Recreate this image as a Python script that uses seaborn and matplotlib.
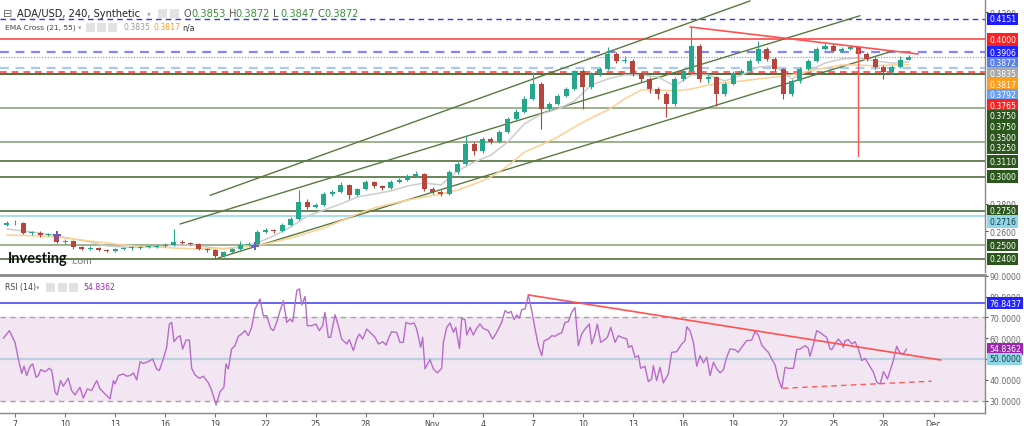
import numpy as np
import pandas as pd
import matplotlib
matplotlib.use("Agg")
import matplotlib.pyplot as plt
from matplotlib.patches import Rectangle
import seaborn as sns

# ---------------- data ----------------
base_date = "2023-10-07"
candle_start = "2023-10-06 12:00"
first_open = 0.2650
closes = [0.2661, 0.2665, 0.2589, 0.2589, 0.2574, 0.2574, 0.2523, 0.2530, 0.2486, 0.2472,
          0.2479, 0.2464, 0.2457, 0.2472, 0.2479, 0.2479, 0.2486, 0.2486, 0.2494, 0.2501,
          0.2523, 0.2516, 0.2508, 0.2472, 0.2464, 0.2421, 0.2450, 0.2472, 0.2501, 0.2508,
          0.2596, 0.2610, 0.2603, 0.2647, 0.2691, 0.2815, 0.2778, 0.2793, 0.2873, 0.2888,
          0.2939, 0.2866, 0.2909, 0.2960, 0.2931, 0.2917, 0.2960, 0.2975, 0.3004, 0.3019,
          0.2909, 0.2888, 0.2873, 0.3033, 0.3092, 0.3238, 0.3187, 0.3274, 0.3252, 0.3325,
          0.3420, 0.3471, 0.3566, 0.3675, 0.3493, 0.3529, 0.3588, 0.3639, 0.3770, 0.3653,
          0.3748, 0.3785, 0.3894, 0.3843, 0.3843, 0.3748, 0.3712, 0.3639, 0.3602, 0.3529,
          0.3712, 0.3770, 0.3952, 0.3712, 0.3726, 0.3602, 0.3675, 0.3756, 0.3770, 0.3843,
          0.3931, 0.3858, 0.3785, 0.3602, 0.3697, 0.3785, 0.3843, 0.3931, 0.3952, 0.3916,
          0.3931, 0.3945, 0.3894, 0.3858, 0.3800, 0.3763, 0.3800, 0.3853, 0.3872]
highs = [0.2675, 0.2680, 0.2672, 0.2602, 0.2600, 0.2588, 0.2585, 0.2542, 0.2538, 0.2495,
         0.2490, 0.2487, 0.2472, 0.2480, 0.2488, 0.2490, 0.2495, 0.2497, 0.2503, 0.2512,
         0.2618, 0.2535, 0.2525, 0.2515, 0.2480, 0.2470, 0.2458, 0.2482, 0.2530, 0.2520,
         0.2612, 0.2625, 0.2620, 0.2660, 0.2705, 0.2902, 0.2840, 0.2810, 0.2890, 0.2900,
         0.2960, 0.2945, 0.2920, 0.2975, 0.2968, 0.2940, 0.2972, 0.2988, 0.3018, 0.3040,
         0.3025, 0.2925, 0.2900, 0.3045, 0.3105, 0.3296, 0.3250, 0.3290, 0.3285, 0.3340,
         0.3435, 0.3490, 0.3585, 0.3760, 0.3690, 0.3545, 0.3600, 0.3655, 0.3780, 0.3785,
         0.3765, 0.3800, 0.3945, 0.3905, 0.3880, 0.3855, 0.3765, 0.3725, 0.3650, 0.3615,
         0.3725, 0.3790, 0.4091, 0.3965, 0.3745, 0.3735, 0.3690, 0.3770, 0.3785, 0.3858,
         0.3990, 0.3945, 0.3870, 0.3795, 0.3710, 0.3800, 0.3858, 0.3945, 0.3975, 0.3965,
         0.3945, 0.3960, 0.3955, 0.3905, 0.3870, 0.3812, 0.3815, 0.3880, 0.3885]
lows = [0.2640, 0.2650, 0.2578, 0.2575, 0.2562, 0.2563, 0.2512, 0.2510, 0.2475, 0.2462,
        0.2465, 0.2455, 0.2448, 0.2450, 0.2465, 0.2468, 0.2470, 0.2476, 0.2478, 0.2485,
        0.2495, 0.2505, 0.2498, 0.2462, 0.2452, 0.2406, 0.2412, 0.2442, 0.2465, 0.2490,
        0.2500, 0.2585, 0.2590, 0.2595, 0.2640, 0.2685, 0.2765, 0.2768, 0.2785, 0.2860,
        0.2880, 0.2840, 0.2855, 0.2900, 0.2920, 0.2905, 0.2910, 0.2950, 0.2965, 0.2995,
        0.2895, 0.2875, 0.2858, 0.2865, 0.3020, 0.3085, 0.3160, 0.3175, 0.3238, 0.3245,
        0.3315, 0.3410, 0.3460, 0.3555, 0.3347, 0.3480, 0.3520, 0.3578, 0.3630, 0.3490,
        0.3640, 0.3735, 0.3775, 0.3830, 0.3825, 0.3735, 0.3690, 0.3610, 0.3566, 0.3435,
        0.3515, 0.3700, 0.3760, 0.3690, 0.3680, 0.3515, 0.3590, 0.3665, 0.3745, 0.3760,
        0.3830, 0.3845, 0.3770, 0.3566, 0.3590, 0.3685, 0.3775, 0.3835, 0.3920, 0.3905,
        0.3905, 0.3920, 0.3880, 0.3845, 0.3785, 0.3710, 0.3750, 0.3790, 0.3847]

ema_start = "2023-10-06 12:00"
ema21 = [0.2618, 0.2603, 0.2588, 0.2567, 0.2545, 0.2523, 0.2494, 0.2486, 0.2486, 0.2486,
         0.2501, 0.2501, 0.2486, 0.2472, 0.2486, 0.2516, 0.2567, 0.2632, 0.2712, 0.2756,
         0.2800, 0.2851, 0.2873, 0.2895, 0.2931, 0.2953, 0.2939, 0.3041, 0.3106, 0.3157,
         0.3252, 0.3384, 0.3456, 0.3493, 0.3551, 0.3668, 0.3712, 0.3741, 0.3741, 0.3726,
         0.3661, 0.3741, 0.3741, 0.3697, 0.3741, 0.3799, 0.3807, 0.3712, 0.3770, 0.3828,
         0.3858, 0.3865, 0.3843, 0.3828, 0.3835]
ema55 = [0.2574, 0.2570, 0.2567, 0.2559, 0.2545, 0.2530, 0.2516, 0.2501, 0.2490, 0.2486,
         0.2479, 0.2475, 0.2472, 0.2475, 0.2486, 0.2494, 0.2523, 0.2552, 0.2588, 0.2625,
         0.2676, 0.2727, 0.2771, 0.2800, 0.2829, 0.2851, 0.2873, 0.2902, 0.2946, 0.2997,
         0.3077, 0.3179, 0.3230, 0.3289, 0.3362, 0.3427, 0.3486, 0.3566, 0.3632, 0.3632,
         0.3624, 0.3639, 0.3668, 0.3683, 0.3697, 0.3712, 0.3726, 0.3741, 0.3770, 0.3792,
         0.3814, 0.3814, 0.3807, 0.3814, 0.3817]

rsi_day = [-0.70, -0.34, 0.00, 0.20, 0.40, 0.54, 0.70, 0.90, 1.06, 1.26, 1.40, 1.54, 1.80, 2.06, 2.20,
           2.40, 2.53, 2.73, 2.89, 3.19, 3.39, 3.59, 3.89, 4.09, 4.33, 4.59, 4.89, 5.09, 5.39, 5.69,
           5.89, 5.99, 6.19, 6.49, 6.69, 6.89, 7.09, 7.29, 7.49, 7.68, 7.98, 8.24, 8.48, 8.64, 8.88,
           9.08, 9.24, 9.38, 9.52, 9.72, 9.88, 10.04, 10.24, 10.44, 10.58, 10.78, 11.04, 11.28, 11.58, 11.78,
           12.04, 12.28, 12.51, 12.63, 12.77, 12.97, 13.17, 13.37, 13.57, 13.77, 13.97, 14.17, 14.37, 14.67, 14.87,
           15.07, 15.31, 15.47, 15.67, 15.87, 16.07, 16.27, 16.47, 16.63, 16.87, 17.03, 17.17, 17.37, 17.50, 17.76,
           18.02, 18.22, 18.42, 18.56, 18.76, 18.90, 19.16, 19.36, 19.56, 19.86, 20.02, 20.26, 20.46, 20.62, 20.82,
           21.06, 21.36, 21.56, 21.76, 22.02, 22.22, 22.36, 22.55, 22.85, 23.05, 23.25, 23.41, 23.65, 23.89, 24.05,
           24.29, 24.41, 24.55, 24.85, 25.05, 25.29, 25.55, 25.65, 25.85, 26.05, 26.25, 26.39, 26.61, 26.75, 26.95,
           27.05, 27.25, 27.44, 27.64, 27.84, 28.04, 28.34,
           28.44, 28.60, 28.84, 29.14, 29.34, 29.54, 29.70, 29.88, 30.04, 30.20, 30.34, 30.54, 30.74, 30.94, 31.14,
           31.34, 31.54, 31.68, 31.94, 32.14, 32.34, 32.53, 32.73, 32.93, 33.13, 33.33, 33.53, 33.73, 33.93, 34.13,
           34.39, 34.53, 34.73, 34.87, 35.07, 35.23, 35.47, 35.67, 35.93, 36.13, 36.33, 36.63, 36.73, 36.93, 37.13,
           37.33, 37.46, 37.72, 37.92, 38.12, 38.22, 38.42, 38.62, 38.82, 39.12, 39.32, 39.62, 39.92, 40.12, 40.22,
           40.42, 40.62, 40.82, 41.02, 41.22, 41.42, 41.62, 41.82, 42.02, 42.22, 42.42, 42.61, 42.81, 43.11, 43.31,
           43.51, 43.81, 44.11, 44.31, 44.51, 44.71, 44.91, 45.11, 45.31, 45.51, 45.71, 45.91, 46.11, 46.31, 46.61,
           46.81, 47.01, 47.31, 47.50, 47.60, 47.80, 48.00, 48.20, 48.40, 48.60, 48.80, 48.90, 49.10, 49.30, 49.50,
           49.60, 49.70, 49.90, 50.10, 50.30, 50.50, 50.70, 50.90, 51.10, 51.40, 51.60, 51.80, 52.00, 52.24, 52.40,
           52.59, 52.79, 52.99, 53.19, 53.39]
rsi_val = [59.9, 63.6, 58.0, 50.0, 43.1, 46.5, 42.0, 46.5, 47.6, 41.2, 42.0, 44.9, 43.9, 45.5, 44.4,
           34.0, 32.7, 39.6, 36.9, 40.7, 34.8, 32.7, 36.4, 31.1, 35.6, 34.8, 39.6, 35.6, 33.2, 30.8,
           39.6, 38.0, 42.0, 42.8, 41.7, 42.0, 43.3, 39.9, 48.7, 47.9, 48.7, 50.0, 45.2, 44.4, 50.0,
           55.6, 66.8, 67.6, 58.3, 60.4, 61.2, 54.8, 59.1, 59.1, 45.5, 42.3, 40.7, 41.7, 38.5, 34.8,
           27.9, 34.3, 36.4, 47.6, 45.2, 54.8, 56.4, 60.9, 62.0, 63.6, 61.2, 65.2, 74.0, 78.8, 70.8,
           70.8, 64.7, 63.6, 67.6, 73.2, 78.0, 67.6, 69.2, 67.9, 82.9, 83.7, 76.0, 80.1, 66.0, 66.0,
           66.8, 63.6, 66.0, 72.4, 60.4, 60.4, 71.3, 66.0, 59.6, 57.2, 59.3, 54.0, 59.6, 62.0, 59.6,
           64.4, 62.0, 60.4, 57.2, 58.3, 56.7, 59.9, 63.1, 62.8, 58.0, 58.0, 67.6, 66.8, 67.3, 64.4,
           55.6, 60.4, 45.2, 49.7, 45.2, 43.3, 45.5, 58.0, 65.2, 67.3, 62.8, 65.2, 55.1, 69.6, 68.9,
           61.5, 65.2, 61.5, 64.7, 66.8, 64.7, 63.6,
           62.0, 59.6, 62.8, 67.6, 73.2, 72.1, 72.9, 68.9, 71.2, 69.6, 73.7, 74.0, 80.8, 73.2, 64.4,
           56.4, 51.6, 58.8, 59.6, 61.2, 60.9, 62.0, 62.5, 67.6, 67.9, 72.4, 74.8, 56.4, 62.0, 64.4,
           66.8, 57.2, 62.0, 66.8, 58.0, 58.8, 60.4, 65.2, 58.0, 61.2, 60.4, 59.6, 55.6, 56.4, 50.8,
           51.6, 45.5, 46.5, 39.1, 40.4, 46.8, 39.6, 46.0, 38.5, 42.8, 53.2, 53.5, 57.2, 58.8, 65.5,
           63.6, 58.0, 46.5, 51.6, 48.1, 50.8, 42.0, 48.4, 45.2, 43.3, 44.9, 50.8, 54.8, 54.5, 53.2,
           55.6, 58.8, 59.1, 63.1, 61.5, 56.7, 54.8, 53.2, 50.0, 47.1, 40.4, 35.9, 46.0, 45.5, 45.5,
           54.5, 54.8, 56.4, 55.1, 51.3, 56.7, 63.6, 62.8, 61.5, 60.4, 54.8, 54.5, 57.2, 59.6, 57.7,
           55.6, 58.8, 59.3, 57.2, 58.3, 54.8, 49.2, 50.3, 47.6, 43.6, 38.8, 38.0, 43.9, 40.4, 44.4,
           49.2, 56.1, 52.9, 52.4, 54.8]
rsi_last = 54.8362
rsi_level = 76.8437

tick_dates = ["2023-10-07", "2023-10-10", "2023-10-13", "2023-10-16", "2023-10-19", "2023-10-22",
              "2023-10-25", "2023-10-28", "2023-11-01", "2023-11-04", "2023-11-07", "2023-11-10",
              "2023-11-13", "2023-11-16", "2023-11-19", "2023-11-22", "2023-11-25", "2023-11-28",
              "2023-12-01"]
tick_labels = ["7", "10", "13", "16", "19", "22", "25", "28", "Nov", "4", "7", "10", "13", "16",
               "19", "22", "25", "28", "Dec"]

green_levels = [0.3750, 0.3750, 0.3500, 0.3250, 0.3110, 0.3000, 0.2750, 0.2500, 0.2400]
level_blue_top = 0.4151
level_red = 0.4000
level_blue = 0.3906
level_ltblue = 0.3792
level_red_dash = 0.3765
level_cyan = 0.2716
price_ticks = [0.26, 0.28, 0.42]
hdr_names = ["O", "H", "L", "C"]
hdr_values = [0.3853, 0.3872, 0.3847, 0.3872]

# trend lines: (day offsets, values)
chan_upper_d, chan_upper_p = [11.68, 44.01], [0.2863, 0.4281]
chan_mid_d, chan_mid_p = [9.88, 50.60], [0.2654, 0.4173]
chan_low_d, chan_low_p = [12.16, 52.57], [0.2406, 0.3916]
red_down_d, red_down_p = [40.42, 54.07], [0.4091, 0.3894]
red_vert_d, red_vert_p = [50.48, 50.48], [0.3931, 0.3150]
cross_d, cross_p = [2.51, 14.37], [0.2574, 0.2494]
rsi_red_d, rsi_red_v = [30.74, 55.43], [80.8, 49.5]
rsi_dash_d, rsi_dash_v = [45.97, 54.89], [35.9, 39.3]

# ---------------- figure ----------------
sns.set_theme(style="white")
plt.rcParams["font.family"] = ["DejaVu Sans"]

W, H = 1024, 427
fig = plt.figure(figsize=(W / 100, H / 100), dpi=100)
fig.patch.set_facecolor("white")

main_top, main_bot = 0, 273
rsi_top, rsi_bot = 276, 414
plot_right = 985
ax = fig.add_axes([0, 1 - main_bot / H, plot_right / W, (main_bot - main_top) / H])
ax2 = fig.add_axes([0, 1 - rsi_bot / H, plot_right / W, (rsi_bot - rsi_top) / H])

base = pd.Timestamp(base_date)
def to_days(ts):
    return np.asarray((pd.DatetimeIndex(ts) - base) / pd.Timedelta("1D"), dtype=float)

candle_t = to_days(pd.date_range(candle_start, periods=len(closes), freq="12h"))
ema_t = to_days(pd.date_range(ema_start, periods=len(ema21), freq="D"))
opens = [first_open] + closes[:-1]

XMIN, XMAX = -0.898, 58.08
PMIN, PMAX = 0.2304, 0.4295
RMIN, RMAX = 24.0, 90.4
LBL_FS = 5.6

# horizontal levels
for lv, col in zip(green_levels, ["#4f6f3b", "#4f6f3b", "#8fa67d", "#8fa67d", "#4f6f3b",
                                  "#4f6f3b", "#4f6f3b", "#8fa67d", "#4f6f3b"]):
    ax.axhline(lv, color=col, lw=1.2, zorder=1)
ax.axhline(level_cyan, color="#a9dfea", lw=1.5, zorder=1)
ax.axhline(level_blue_top, color="#3535f5", lw=1.0, ls=(0, (4, 3)), zorder=1)
ax.axhline(level_red, color="#ff4848", lw=1.2, zorder=1)
ax.axhline(level_blue, color="#8484ff", lw=1.6, ls=(0, (4, 3)), zorder=1)
ax.axhline(closes[-1], color="#6f8fe8", lw=0.8, ls=(0, (1, 1.5)), zorder=1)
ax.axhline(level_ltblue, color="#abc7f3", lw=1.6, ls=(0, (4, 3)), zorder=1)
ax.axhline(level_red_dash, color="#ff4848", lw=1.2, ls=(0, (4, 3)), zorder=1)

# channel lines
for d, p in [(chan_upper_d, chan_upper_p), (chan_mid_d, chan_mid_p), (chan_low_d, chan_low_p)]:
    ax.plot(d, p, color="#567a40", lw=1.0, zorder=2)

# EMAs
sns.lineplot(x=ema_t, y=ema21, ax=ax, color="#cdcdcd", lw=1.1, zorder=2)
sns.lineplot(x=ema_t, y=ema55, ax=ax, color="#ffcf94", lw=1.1, zorder=2)

# candles
up_c, dn_c = "#26a68b", "#b5463e"
for t, o, h, l, c in zip(candle_t, opens, highs, lows, closes):
    col = up_c if c >= o else dn_c
    ax.vlines(t, l, h, color=col, lw=0.8, zorder=3)
    ax.bar(t, max(abs(c - o), 0.0004), bottom=min(o, c), width=0.30, color=col,
           linewidth=0, zorder=4)

# red annotations
ax.plot(red_down_d, red_down_p, color="#ff5252", lw=1.2, zorder=5)
ax.plot(red_vert_d, red_vert_p, color="#ff5252", lw=1.0, zorder=5)
ax.scatter(cross_d, cross_p, marker="P", s=40, color="#6a5acd", zorder=6, linewidths=0)

ax.set_xlim(XMIN, XMAX)
ax.set_ylim(PMIN, PMAX)
ax.set_xticks([])
ax.yaxis.tick_right()
ax.set_yticks(price_ticks)
ax.set_yticklabels([f"{v:.4f}" for v in price_ticks])
ax.tick_params(axis="y", labelsize=LBL_FS, colors="#555555", length=2, width=0.8, pad=1.5,
               labelcolor="#666666", right=True)
for s in ["top", "left", "bottom"]:
    ax.spines[s].set_visible(False)
ax.spines["right"].set_color("#888888")
ax.spines["right"].set_linewidth(1.0)
ax.set_xlabel("")
ax.set_ylabel("")

# stacked right-hand price labels
green_bg = "#2c571c"
labels = [(level_blue_top, "#1c1cff", "white"), (level_red, "#ff1f1f", "white"),
          (level_blue, "#2222ff", "white"), (closes[-1], "#5b80e6", "white"),
          (ema21[-1], "#a9a9a9", "white"), (ema55[-1], "#ff9d1f", "white"),
          (level_ltblue, "#6d9ff0", "white"), (level_red_dash, "#ff1f1f", "white"),
          (level_cyan, "#8fd6e6", "#1d3b44")]
labels += [(lv, green_bg, "white") for lv in green_levels]
labels.sort(key=lambda r: -r[0])
ph = main_bot - main_top
prev = -100
for p, bg, fg in labels:
    py = (PMAX - p) / (PMAX - PMIN) * ph
    py = max(py, prev + 10.6)
    prev = py
    ax.text(1 + 4 / plot_right, 1 - py / ph, f"{p:.4f}", transform=ax.transAxes,
            ha="left", va="center", fontsize=LBL_FS, color=fg, clip_on=False, zorder=10,
            bbox=dict(boxstyle="square,pad=0.22", fc=bg, ec="none"))

# ---------------- RSI panel ----------------
ax2.axhspan(30, 70, color="#f2e6f3", zorder=0, lw=0)
ax2.axhline(70, color="#a8a0a8", lw=1.0, ls=(0, (4, 3)), zorder=1)
ax2.axhline(30, color="#a8a0a8", lw=1.0, ls=(0, (4, 3)), zorder=1)
ax2.axhline(50, color="#bcd0e2", lw=1.6, zorder=1)
ax2.axhline(rsi_level, color="#3a3af0", lw=1.1, zorder=1)
sns.lineplot(x=rsi_day, y=rsi_val, ax=ax2, color="#b86cc8", lw=1.0, zorder=3, sort=False)
ax2.plot(rsi_red_d, rsi_red_v, color="#ff5252", lw=1.2, zorder=4)
ax2.plot(rsi_dash_d, rsi_dash_v, color="#ff5a5a", lw=1.0, ls=(0, (4, 3)), zorder=4)

ax2.set_xlim(XMIN, XMAX)
ax2.set_ylim(RMIN, RMAX)
rsi_ticks = [30, 40, 50, 60, 70, 80, 90]
ax2.yaxis.tick_right()
ax2.set_yticks(rsi_ticks)
ax2.set_yticklabels([f"{v:.4f}" for v in rsi_ticks])
ax2.tick_params(axis="y", labelsize=LBL_FS, colors="#555555", length=2, width=0.8, pad=1.5,
                labelcolor="#666666", right=True)
tick_days = to_days(pd.to_datetime(tick_dates))
ax2.set_xticks(tick_days)
ax2.set_xticklabels(tick_labels)
ax2.tick_params(axis="x", labelsize=5.8, colors="#777777", length=3, width=0.8, pad=1,
                labelcolor="#444444", bottom=True)
ax2.spines["left"].set_visible(False)
for s in ["right", "bottom"]:
    ax2.spines[s].set_color("#888888")
    ax2.spines[s].set_linewidth(1.0)
ax2.spines["top"].set_color("#8a8a8a")
ax2.spines["top"].set_linewidth(2.0)
ax2.set_xlabel("")
ax2.set_ylabel("")

for v, bg, fg in [(rsi_level, "#2424ff", "white"), (rsi_last, "#9b27af", "white"),
                  (50.0, "#8fd6e6", "#1d3b44")]:
    ax2.text(1 + 4 / plot_right, (v - RMIN) / (RMAX - RMIN), f"{v:.4f}", transform=ax2.transAxes,
             ha="left", va="center", fontsize=LBL_FS, color=fg, clip_on=False, zorder=10,
             bbox=dict(boxstyle="square,pad=0.22", fc=bg, ec="none"))

# ---------------- header texts ----------------
def ftxt(x, y, s, **kw):
    fig.text(x / W, 1 - y / H, s, va="center", ha="left", **kw)

def icon(x, y, w=9, h=9):
    fig.patches.append(Rectangle((x / W, 1 - (y + h / 2) / H), w / W, h / H,
                                 transform=fig.transFigure, fc="#e2e2e2", ec="none"))

ftxt(3, 14, "\u229f", fontsize=8, color="#666666")
ftxt(17, 14, "ADA/USD, 240, Synthetic", fontsize=7.1, color="#222222")
ftxt(147, 14, "\u25be", fontsize=5.5, color="#aaaaaa")
icon(158, 14); icon(170, 14)
for i, (lab, val) in enumerate(zip(hdr_names, hdr_values)):
    x0 = 184 + 44.5 * i
    ftxt(x0, 14, lab, fontsize=7.1, color="#555555")
    ftxt(x0 + 7, 14, f"{val:.4f}", fontsize=7.1, color="#3c8f3c")

ftxt(5, 28, "EMA Cross (21, 55)", fontsize=5.4, color="#444444")
ftxt(78, 28, "\u25be", fontsize=5, color="#aaaaaa")
icon(86, 28); icon(97, 28); icon(108, 28)
ftxt(123, 28, f"{ema21[-1]:.4f}", fontsize=5.6, color="#9a9a9a")
ftxt(153, 28, f"{ema55[-1]:.4f}", fontsize=5.6, color="#f5a020")
ftxt(182, 28, "n/a", fontsize=5.6, color="#333333")

ftxt(5, 288, "RSI (14)", fontsize=5.6, color="#444444")
ftxt(36, 288, "\u25be", fontsize=5, color="#aaaaaa")
icon(46, 288); icon(58, 288); icon(69, 288)
ftxt(83, 288, f"{rsi_last:.4f}", fontsize=5.6, color="#9b27af")

fig.text(8 / W, 1 - 259 / H, "Investing", fontsize=10.5, fontweight="bold", color="#111111",
         family=["Lato", "DejaVu Sans"], va="center", ha="left")
fig.text(70 / W, 1 - 261 / H, ".com", fontsize=7.5, color="#777777",
         family=["Lato", "DejaVu Sans"], va="center", ha="left")

fig.savefig("out.png", dpi=100, facecolor="white")
